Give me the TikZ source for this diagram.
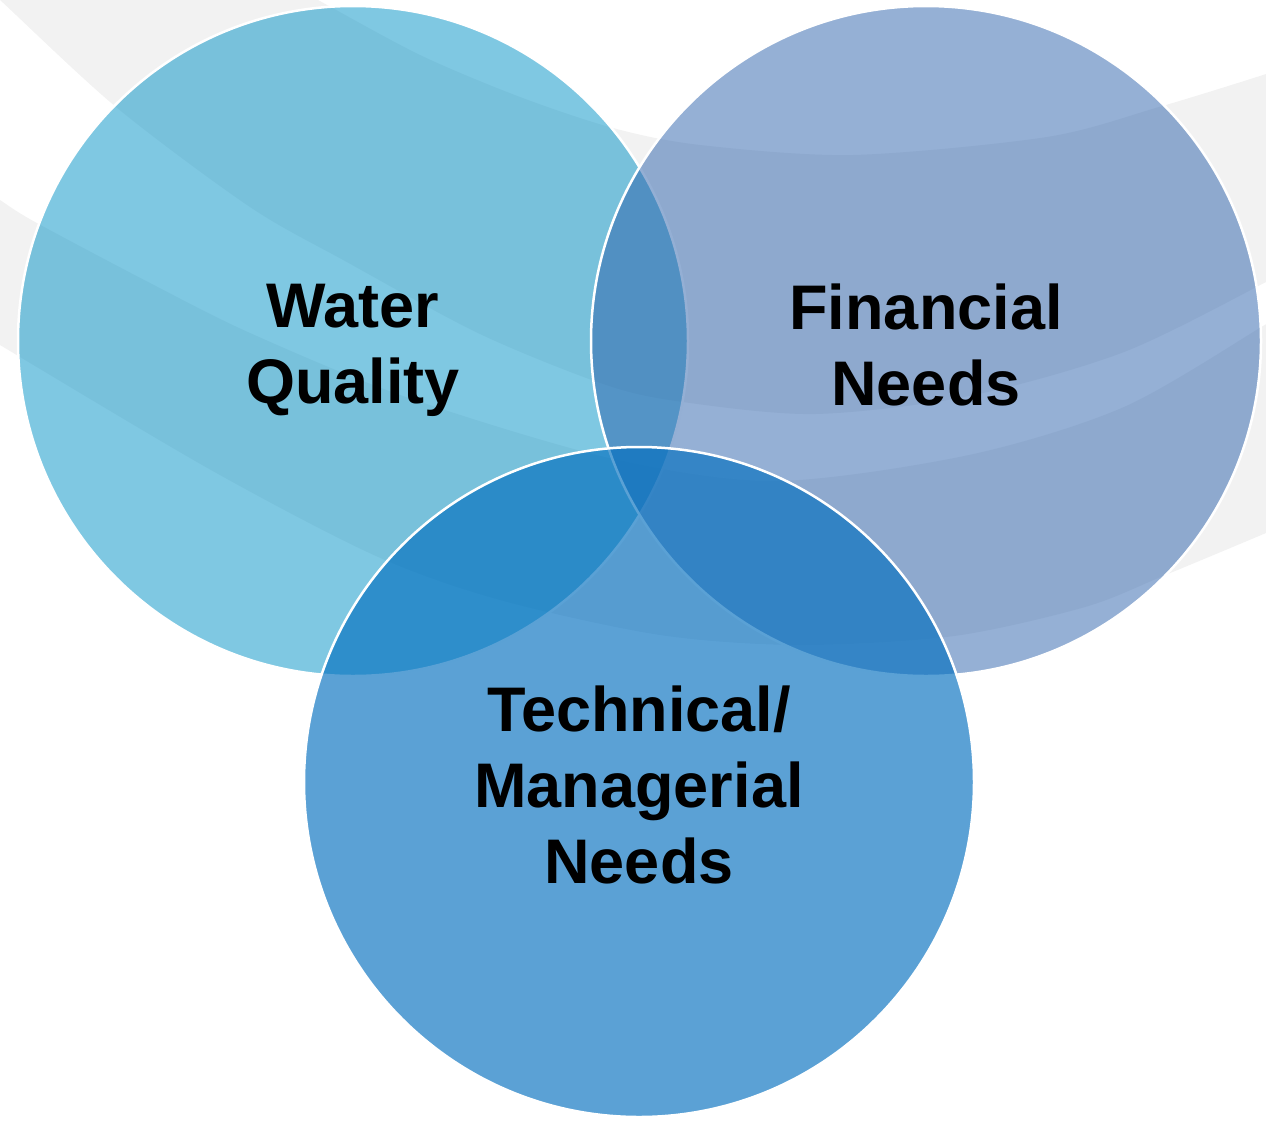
\documentclass[tikz,border=0pt]{standalone}
\usepackage{fontspec}
\setmainfont{Liberation Sans}
\definecolor{bandgray}{RGB}{242,242,242}
\definecolor{wqblue}{RGB}{0,145,197}
\definecolor{fnblue}{RGB}{43,97,171}
\definecolor{tmblue}{RGB}{3,111,191}
\begin{document}
\begin{tikzpicture}[x=1pt,y=-1pt,
  venn/.style={circle, minimum size=670pt, inner sep=0pt, draw=white, line width=2.5pt},
  lbl/.style={font=\bfseries\fontsize{63}{76}\selectfont, align=center, inner sep=0pt, anchor=north, text=black},
  band/.style={fill=bandgray}]
\useasboundingbox (0,0) rectangle (1266,1120);
\clip (0,0) rectangle (1266,1120);
% background swoosh bands
\fill[band] plot[smooth] coordinates {(290,-15) (318,0) (420,55) (520,97) (613,128) (700,145) (853,155) (1047,137) (1159,107) (1266,74) (1300,61)}
  -- plot[smooth] coordinates {(1300,262) (1266,282) (1124,352) (969,396) (815,414) (683,402) (606,385) (480,334) (345,261) (250,207) (116,107) (0,0) (-15,-12)} -- cycle;
\fill[band] plot[smooth] coordinates {(-15,190) (0,200) (35,222) (150,283) (250,333) (403,396) (609,458) (776,481) (969,455) (1124,407) (1263,326) (1300,302)}
  -- plot[smooth] coordinates {(1300,518) (1266,533) (1163,576) (1085,607) (954,636) (800,645) (660,635) (500,600) (376,556) (211,470) (0,345) (-15,336)} -- cycle;
% circles
\node[venn, fill=wqblue, fill opacity=0.5] (wq) at (353,341) {};
\node[venn, fill=fnblue, fill opacity=0.5] (fn) at (926,341) {};
\node[venn, fill=tmblue, fill opacity=0.65] (tm) at (639,782) {};
% labels
\node[lbl] (wqt) at (353,284) {Water\\Quality};
\node[lbl] (fnt) at (926,284) {Financial\\Needs};
\node[lbl] (tmt) at (639,686) {Technical/\\Managerial\\Needs};
\end{tikzpicture}
\end{document}
